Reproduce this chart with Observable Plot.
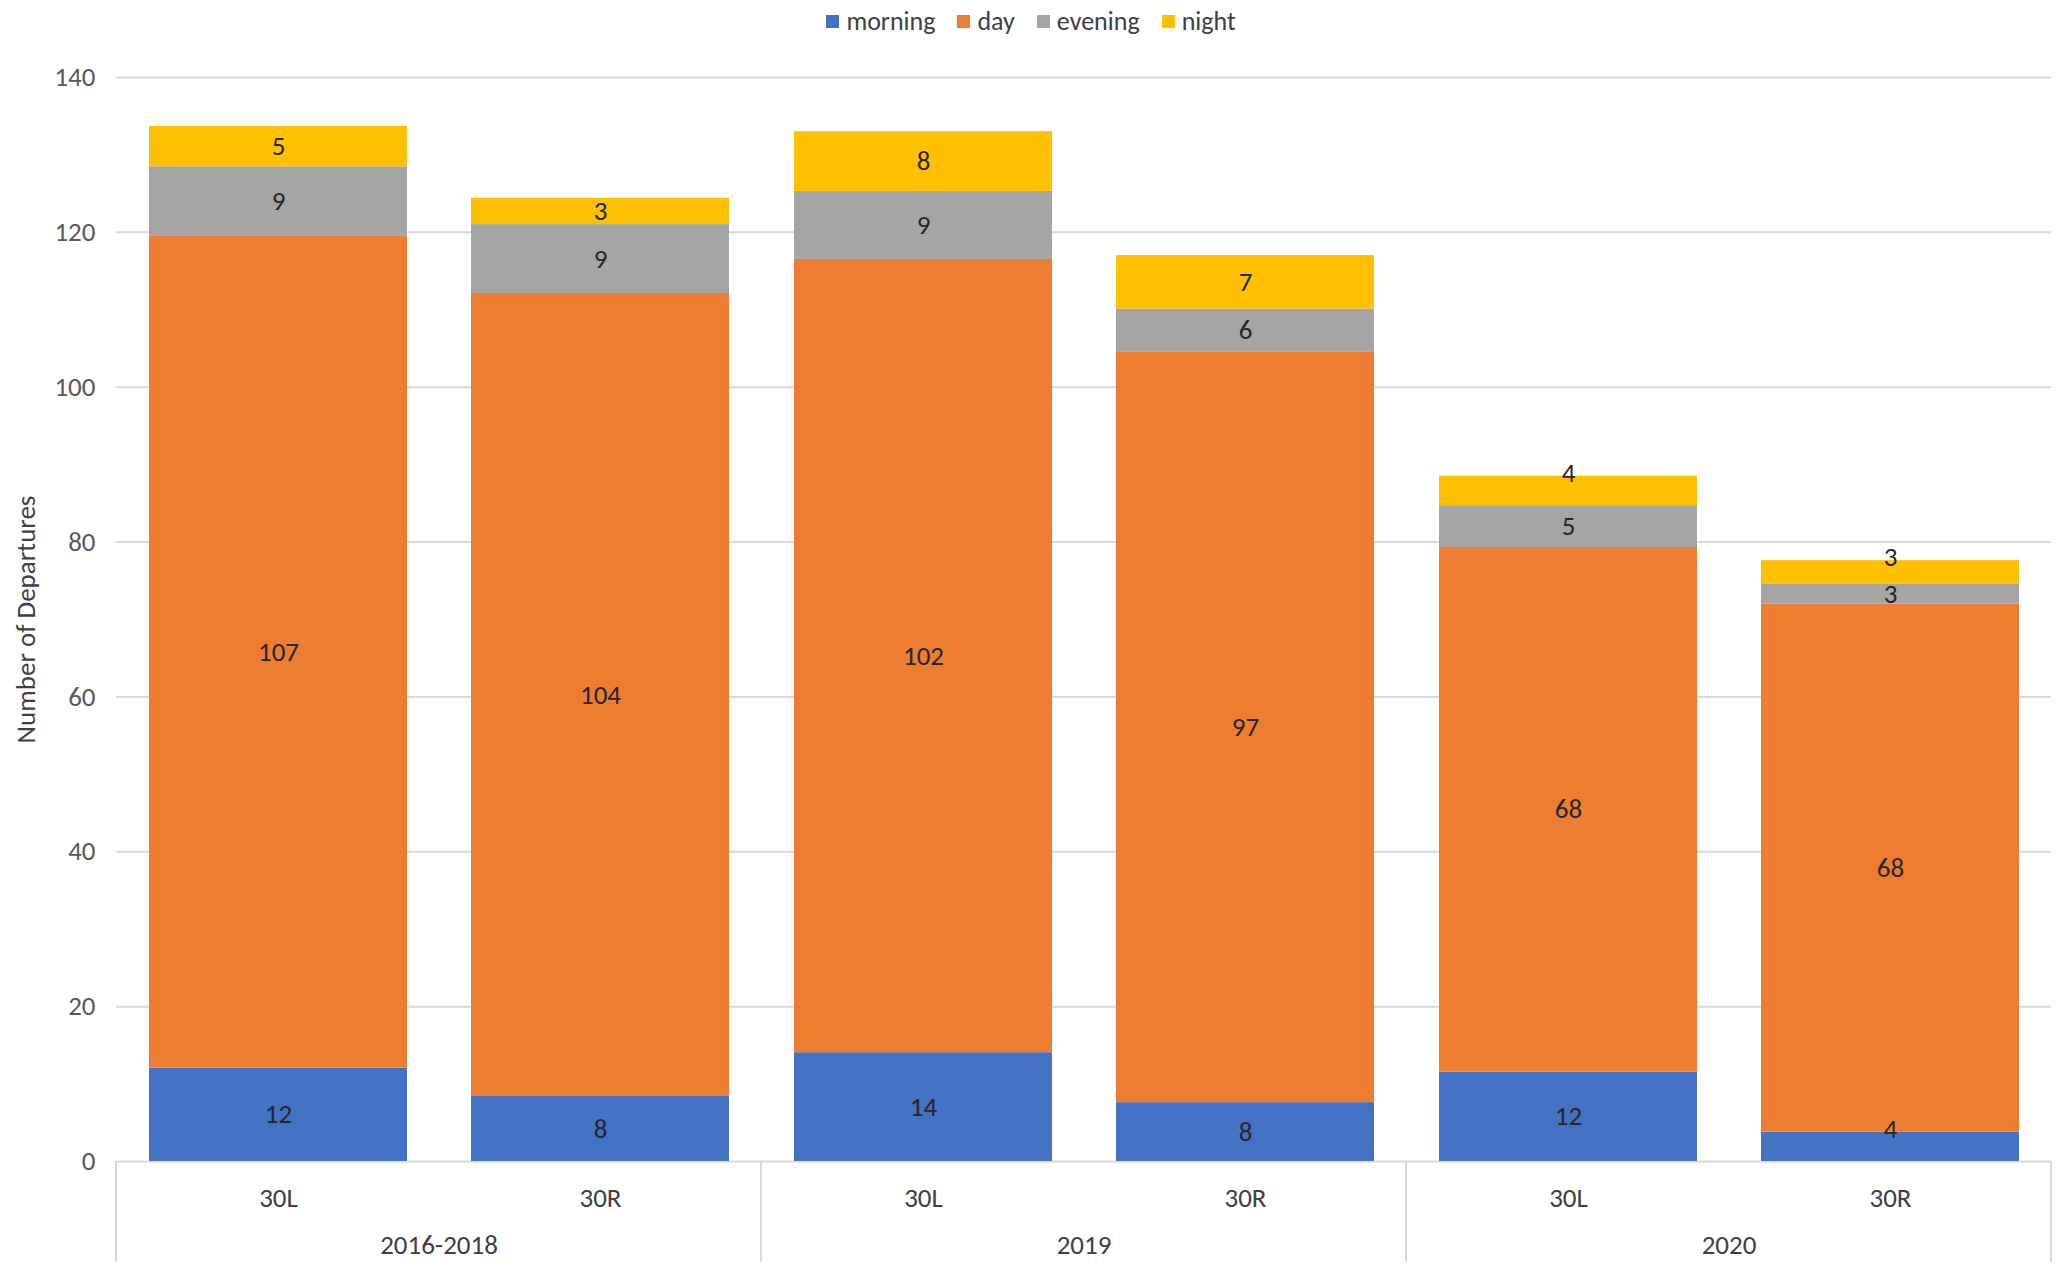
<!DOCTYPE html>
<html><head><meta charset="utf-8">
<script src="https://cdn.jsdelivr.net/npm/d3@7"></script>
<script src="https://cdn.jsdelivr.net/npm/@observablehq/plot@0.6"></script>
<style>
html,body{margin:0;padding:0;background:#fff;overflow:hidden;}
body{width:2062px;height:1269px;font-family:Carlito,Calibri,Lato,sans-serif;}
#legend{height:42px;display:flex;justify-content:center;align-items:center;font-size:26px;color:#404040;}
#legend .item{display:flex;align-items:center;margin:0 11px;}
#legend .sw{width:13px;height:13px;margin-right:7px;}
</style></head><body>
<div id="legend"></div>
<div id="chart"></div>
<script>
// ---- data ----
const groups  = ["2016-2018","2016-2018","2019","2019","2020","2020"];
const runways = ["30L","30R","30L","30R","30L","30R"];
const periods = ["morning","day","evening","night"];
const colors  = ["#4472C4","#ED7D31","#A5A5A5","#FFC000"];
const morning = [12.07, 8.4, 14.05, 7.6, 11.55, 3.8];
const day     = [107.4, 103.7, 102.45, 96.9, 67.75, 68.2];
const evening = [9.0, 8.9, 8.8, 5.6, 5.4, 2.6];
const night   = [5.2, 3.4, 7.7, 6.9, 3.8, 3.0];
const yTicks  = [0, 20, 40, 60, 80, 100, 120, 140];
const groupDomain = ["2016-2018","2019","2020"];
const runwayDomain = ["30L","30R"];
const yTitle = "Number of Departures";
// labels that the original places at the top edge of their (thin) segment
const topLabels = ["2020|30L|night", "2020|30R|night", "2020|30R|morning"];

const series = {morning, day, evening, night};
const data = [];
groups.forEach((g, i) => {
  periods.forEach(p => data.push({group: g, runway: runways[i], period: p, value: series[p][i]}));
});
const isTop = d => topLabels.includes(`${d.group}|${d.runway}|${d.period}`);

// ---- legend ----
const lg = document.getElementById("legend");
periods.forEach((p, i) => {
  const it = document.createElement("div"); it.className = "item";
  const sw = document.createElement("div"); sw.className = "sw"; sw.style.background = colors[i];
  const tx = document.createElement("span"); tx.textContent = p;
  it.appendChild(sw); it.appendChild(tx); lg.appendChild(it);
});

const W = 2062, H = 1227;
const fmt = d3.format(".0f");
const FS = 27;
const plot = Plot.plot({
  width: W, height: H,
  marginTop: 35, marginBottom: 108, marginLeft: 116, marginRight: 11,
  style: {fontFamily: "Carlito, Calibri, Lato, sans-serif", fontSize: FS + "px", color: "#595959", background: "white"},
  fx: {domain: groupDomain, padding: 0, label: null},
  x: {domain: runwayDomain, paddingInner: 0.2, paddingOuter: 0.1, label: null},
  y: {domain: [0, 140], label: null},
  color: {domain: periods, range: colors},
  marks: [
    Plot.ruleY(yTicks, {stroke: "#d9d9d9", strokeWidth: 2}),
    Plot.barY(data, {fx: "group", x: "runway", y: "value", fill: "period", z: "period"}),
    Plot.text(data, Plot.stackY({fx: "group", x: "runway", y: "value", z: "period",
      text: d => isTop(d) ? null : fmt(d.value), fill: "#262626", fontSize: FS})),
    Plot.text(data, Plot.stackY2({fx: "group", x: "runway", y: "value", z: "period",
      text: d => isTop(d) ? fmt(d.value) : null, fill: "#262626", fontSize: FS, dy: -3})),
    Plot.axisY({ticks: yTicks, tickSize: 0, tickPadding: 21, label: null, fill: "#595959", fontSize: FS}),
    Plot.axisX({tickSize: 0, tickPadding: 26, label: null, fill: "#404040", fontSize: FS}),
    Plot.axisFx({anchor: "bottom", tickSize: 0, tickPadding: 73, label: null, fill: "#404040", fontSize: FS}),
    Plot.text([groupDomain[0]], {fx: d => d, frameAnchor: "left", textAnchor: "middle", text: () => yTitle,
      rotate: -90, dx: -90, fill: "#404040", fontSize: FS})
  ]
});

// group separators below the baseline, positioned from Plot's fx and y scales
const fxs = plot.scale("fx"), ys = plot.scale("y");
const y0 = ys.apply(0);
const edges = fxs.domain.map(d => fxs.apply(d));
edges.push(fxs.apply(fxs.domain[fxs.domain.length - 1]) + fxs.bandwidth);
const svg = d3.select(plot);
edges.forEach(x => {
  svg.append("line").attr("x1", x).attr("x2", x).attr("y1", y0).attr("y2", H - 7)
    .attr("stroke", "#d9d9d9").attr("stroke-width", 2);
});
document.getElementById("chart").appendChild(plot);
</script>
</body></html>
